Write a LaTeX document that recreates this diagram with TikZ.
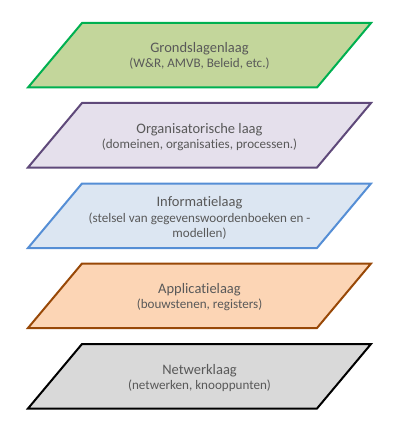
\documentclass[tikz,border=0pt]{standalone}
\usepackage{fontspec}
\setmainfont[Ligatures={NoCommon}]{Carlito}
\definecolor{txtgray}{HTML}{595959}
\definecolor{gfill}{HTML}{C3D69B}
\definecolor{gline}{HTML}{00B050}
\definecolor{pfill}{HTML}{E5E0EC}
\definecolor{pline}{HTML}{5F497A}
\definecolor{bfill}{HTML}{DCE6F2}
\definecolor{bline}{HTML}{558ED5}
\definecolor{ofill}{HTML}{FCD5B5}
\definecolor{oline}{HTML}{984807}
\definecolor{kfill}{HTML}{D9D9D9}
\definecolor{kline}{HTML}{000000}
\begin{document}
\begin{tikzpicture}[x=1pt,y=-1pt,
  layer/.style={line width=2pt, line join=miter},
  ttl/.style={anchor=base, inner sep=0pt, text=txtgray, font=\fontsize{14.5}{17}\selectfont},
  sub/.style={anchor=base, inner sep=0pt, text=txtgray, font=\fontsize{13.1}{15}\selectfont}]
\useasboundingbox (0,0) rectangle (400,433);
% layer shapes
\def\lay#1#2#3{\draw[layer, fill=#2, draw=#3] (82,#1) -- (371,#1) -- (317,#1+64.5) -- (28,#1+64.5) -- cycle;}
\lay{23}{gfill}{gline}
\lay{103}{pfill}{pline}
\lay{183.5}{bfill}{bline}
\lay{263.5}{ofill}{oline}
\lay{344}{kfill}{kline}
% texts
\node[ttl] (t1) at (199.5,53) {Grondslagenlaag};
\node[sub] (s1) at (199.5,68) {(W\&R, AMVB, Beleid, etc.)};
\node[ttl] (t2) at (199.5,133) {Organisatorische laag};
\node[sub] (s2) at (199.5,148) {(domeinen, organisaties, processen.)};
\node[ttl] (t3) at (199.5,206.5) {Informatielaag};
\node[sub] (s3a) at (199.5,222) {(stelsel van gegevenswoordenboeken en -};
\node[sub] (s3b) at (199.5,237) {modellen)};
\node[ttl] (t4) at (199.5,293.5) {Applicatielaag};
\node[sub] (s4) at (199.5,308.5) {(bouwstenen, registers)};
\node[ttl] (t5) at (199.5,374) {Netwerklaag};
\node[sub] (s5) at (199.5,389) {(netwerken, knooppunten)};
\end{tikzpicture}
\end{document}
